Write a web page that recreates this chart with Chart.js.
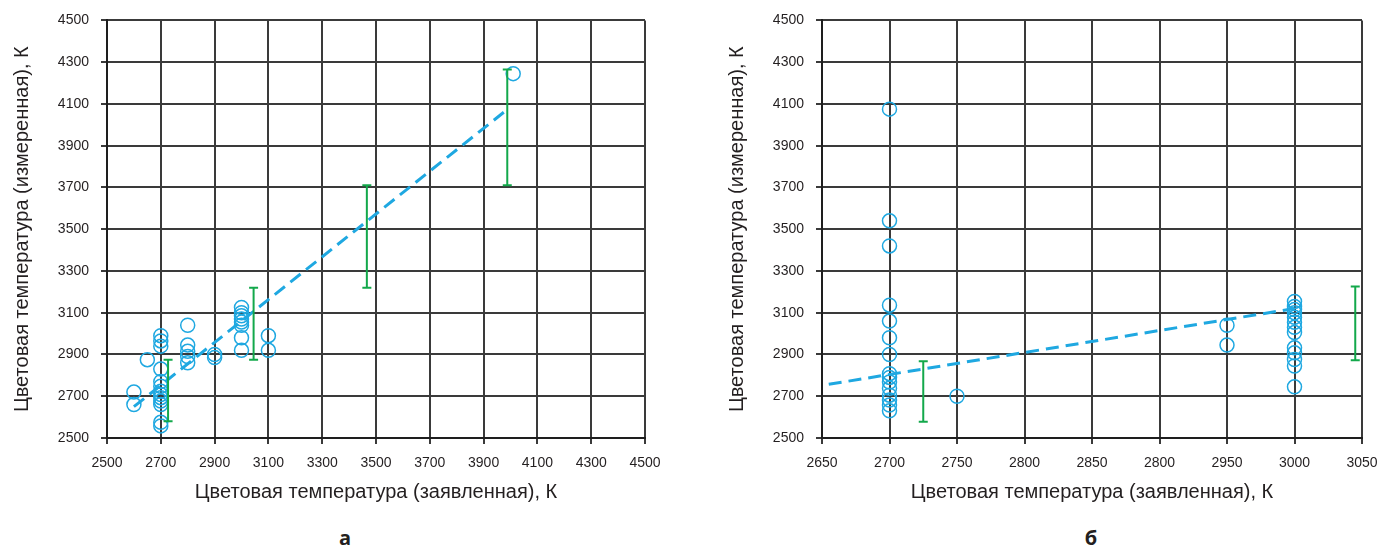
<!DOCTYPE html>
<html>
<head>
<meta charset="utf-8">
<script src="https://cdn.jsdelivr.net/npm/chart.js@4.4.0/dist/chart.umd.min.js"></script>
<style>
  html, body { margin: 0; padding: 0; background: #ffffff; }
  body { width: 1394px; height: 550px; position: relative; overflow: hidden; }
  .wrap { position: absolute; top: 0; height: 520px; }
  .sub { position: absolute; top: 526px; width: 40px; text-align: center; font-family: "Open Sans", "Noto Sans", sans-serif; font-weight: 700; font-size: 20px; color: #231f20; line-height: 24px; }
</style>
</head>
<body>
<div class="wrap" style="left:0;width:690px;"><canvas id="chartA" width="690" height="520"></canvas></div>
<div class="wrap" style="left:700px;width:694px;"><canvas id="chartB" width="694" height="520"></canvas></div>
<div class="sub" style="left:325px;">а</div>
<div class="sub" style="left:1071px;">б</div>
<script>
// ---------- data ----------
const yTickLabels = ['2500','2700','2900','3100','3300','3500','3700','3900','4100','4300','4500'];
const aTickLabels = ['2500','2700','2900','3100','3300','3500','3700','3900','4100','4300','4500'];
const bTickLabels = ['2650','2700','2750','2800','2850','2800','2950','3000','3050'];

const xTitle = 'Цветовая температура (заявленная), К';
const yTitle = 'Цветовая температура (измеренная), К';

// panel а
const aDeclared = [2600, 2600, 2650,
  2700, 2700, 2700, 2700, 2700, 2700, 2700, 2700, 2700, 2700, 2700, 2700, 2700,
  2800, 2800, 2800, 2800, 2800,
  2900, 2900,
  3000, 3000, 3000, 3000, 3000, 3000, 3000, 3000,
  3100, 3100,
  4010];
const aMeasured = [2720, 2660, 2875,
  2990, 2965, 2940, 2830, 2770, 2748, 2724, 2708, 2693, 2677, 2660, 2575, 2558,
  3040, 2945, 2915, 2890, 2860,
  2900, 2885,
  3125, 3100, 3085, 3070, 3055, 3040, 2980, 2920,
  2990, 2920,
  4245];
const aTrendX = [2600, 3975];
const aTrendY = [2650, 4060];
const aErrX  = [2727, 3045, 3466, 3988];
const aErrLo = [2580, 2875, 3220, 3710];
const aErrHi = [2875, 3220, 3710, 4265];

// panel б
const bDeclared = [2700, 2700, 2700, 2700, 2700, 2700, 2700, 2700, 2700, 2700, 2700, 2700, 2700, 2700, 2700,
  2750,
  2950, 2950,
  3000, 3000, 3000, 3000, 3000, 3000, 3000, 3000, 3000, 3000, 3000, 3000, 3000];
const bMeasured = [4075, 3540, 3420, 3136, 3060, 2980, 2900, 2808, 2790, 2768, 2738, 2705, 2682, 2658, 2630,
  2700,
  3040, 2945,
  3154, 3130, 3115, 3100, 3078, 3054, 3030, 3005, 2932, 2908, 2876, 2845, 2745];
const bTrendX = [2655, 3000];
const bTrendY = [2757, 3120];
const bErrX  = [2725, 3045];
const bErrLo = [2578, 2872];
const bErrHi = [2868, 3226];

// ---------- styles ----------
const BLUE = '#1fa8e1';
const GREEN = '#13a84b';
const GRID = '#3a3a3a';
const TEXT = '#231f20';
const FONT = "'Liberation Sans', Arial, sans-serif";

function zip(xs, ys) { return xs.map((x, i) => ({ x: x, y: ys[i] })); }

function buildConfig(declared, measured, trendX, trendY, errX, errLo, errHi, xMin, xMax, xStep, xLabels, padLeft, padRight) {
  const datasets = [];
  errX.forEach((x, i) => {
    datasets.push({
      type: 'line',
      data: [{ x: x, y: errLo[i] }, { x: x, y: errHi[i] }],
      borderColor: GREEN,
      borderWidth: 2,
      pointStyle: 'line',
      pointRadius: 4.5,
      pointBorderWidth: 2,
      pointBorderColor: GREEN,
      pointHoverRadius: 0,
      fill: false
    });
  });
  datasets.push({
    type: 'line',
    data: zip(trendX, trendY),
    borderColor: BLUE,
    borderWidth: 3,
    borderDash: [13, 7],
    pointRadius: 0,
    fill: false
  });
  datasets.push({
    type: 'scatter',
    data: zip(declared, measured),
    pointStyle: 'circle',
    pointRadius: 7,
    pointBorderWidth: 1.5,
    borderColor: BLUE,
    backgroundColor: 'rgba(0,0,0,0)',
    showLine: false
  });
  const yLabelMap = {};
  return {
    type: 'scatter',
    data: { datasets: datasets },
    options: {
      responsive: false,
      animation: false,
      events: [],
      layout: { padding: { left: padLeft, right: padRight, top: 16, bottom: 0 } },
      plugins: { legend: { display: false }, tooltip: { enabled: false } },
      scales: {
        x: {
          type: 'linear',
          min: xMin, max: xMax,
          afterBuildTicks: (s) => { s.ticks = xLabels.map((_, i) => ({ value: xMin + i * xStep })); },
          afterFit: (s) => { s.height = 82; },
          ticks: {
            autoSkip: false, maxRotation: 0,
            padding: 11,
            color: TEXT,
            font: { family: FONT, size: 14 },
            callback: (v, i) => xLabels[i]
          },
          grid: { color: GRID, lineWidth: 2, tickLength: 6, drawTicks: true },
          border: { color: '#1e1e1e', width: 2 },
          title: { display: true, text: xTitle, color: TEXT, font: { family: FONT, size: 20 }, padding: { top: 0, bottom: 16 } }
        },
        y: {
          type: 'linear',
          min: 2500, max: 4500,
          afterBuildTicks: (s) => { s.ticks = yTickLabels.map((_, i) => ({ value: 2500 + i * 200 })); },
          afterFit: (s) => { s.width = 97; },
          ticks: {
            autoSkip: false,
            padding: 12,
            color: TEXT,
            font: { family: FONT, size: 14 },
            callback: (v, i) => yTickLabels[i]
          },
          grid: { color: GRID, lineWidth: 2, tickLength: 6, drawTicks: true },
          border: { color: '#1e1e1e', width: 2 },
          title: { display: true, text: yTitle, color: TEXT, font: { family: FONT, size: 20 }, padding: { top: 0, bottom: 0 } }
        }
      }
    }
  };
}

new Chart(document.getElementById('chartA'),
  buildConfig(aDeclared, aMeasured, aTrendX, aTrendY, aErrX, aErrLo, aErrHi, 2500, 4500, 200, aTickLabels, 10, 45));
new Chart(document.getElementById('chartB'),
  buildConfig(bDeclared, bMeasured, bTrendX, bTrendY, bErrX, bErrLo, bErrHi, 2650, 3050, 50, bTickLabels, 25, 32));
</script>
</body>
</html>
